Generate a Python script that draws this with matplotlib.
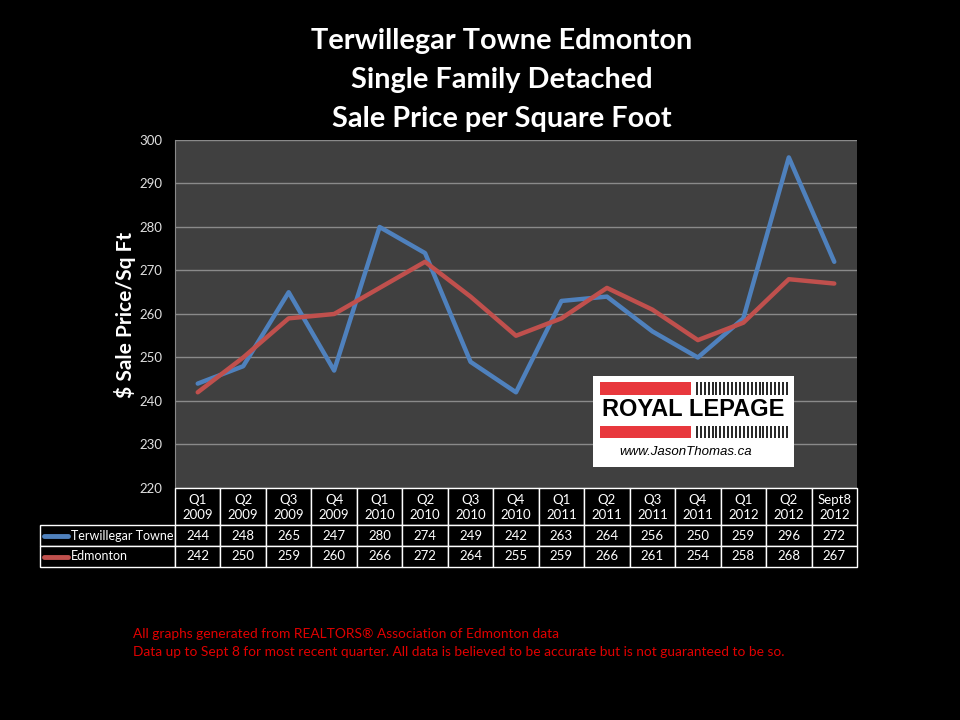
import matplotlib.pyplot as plt
from matplotlib.patches import Rectangle
import numpy as np

plt.rcParams['font.family'] = ['Lato', 'DejaVu Sans']

quarters = ['Q1\n2009', 'Q2\n2009', 'Q3\n2009', 'Q4\n2009',
            'Q1\n2010', 'Q2\n2010', 'Q3\n2010', 'Q4\n2010',
            'Q1\n2011', 'Q2\n2011', 'Q3\n2011', 'Q4\n2011',
            'Q1\n2012', 'Q2\n2012', 'Sept8\n2012']
terwillegar = [244, 248, 265, 247, 280, 274, 249, 242, 263, 264, 256, 250, 259, 296, 272]
edmonton = [242, 250, 259, 260, 266, 272, 264, 255, 259, 266, 261, 254, 258, 268, 267]
series_names = ['Terwillegar Towne', 'Edmonton']
series_colors = ['#4f81bd', '#c0504d']
yticks = [220, 230, 240, 250, 260, 270, 280, 290, 300]

W, H = 960, 720
fig = plt.figure(figsize=(9.6, 7.2), dpi=100, facecolor='black')

# plot area in pixels: x 175-857, y 140-488
L, R, T, B = 175, 857, 140, 488
ax = fig.add_axes([L / W, 1 - B / H, (R - L) / W, (B - T) / H])
ax.set_facecolor('#404040')
x = np.arange(len(quarters)) + 0.5
for vals, c in zip([terwillegar, edmonton], series_colors):
    ax.plot(x, vals, color=c, lw=3.2, solid_capstyle='round', solid_joinstyle='round', zorder=3)
ax.set_xlim(0, len(quarters))
ax.set_ylim(220, 300)
ax.set_yticks(yticks)
ax.set_xticks([])
ax.grid(axis='y', color='#8a8a8a', lw=1)
ax.tick_params(axis='y', length=0, pad=9, labelsize=9.5, labelcolor='#e0e0e0')
for s in ['top', 'right', 'bottom']:
    ax.spines[s].set_visible(False)
ax.spines['left'].set_color('#8a8a8a')

# overlay in pixel coordinates for table, titles and notes
ov = fig.add_axes([0, 0, 1, 1], facecolor='none')
ov.set_xlim(0, W)
ov.set_ylim(H, 0)
ov.axis('off')

# data table under the plot
colw = (R - L) / len(quarters)
hdr_top, hdr_bot = 488, 525
row_h = 21
for j, q in enumerate(quarters):
    x0 = L + j * colw
    ov.add_patch(Rectangle((x0, hdr_top), colw, hdr_bot - hdr_top, fc='black', ec='white', lw=1))
    ov.text(x0 + colw / 2, (hdr_top + hdr_bot) / 2 + 1, q, color='white', fontsize=9.5,
            ha='center', va='center', linespacing=1.35)
for i, (name, vals, c) in enumerate(zip(series_names, [terwillegar, edmonton], series_colors)):
    y0 = hdr_bot + i * row_h
    ov.add_patch(Rectangle((40, y0), L - 40, row_h, fc='black', ec='white', lw=1))
    ov.plot([44, 68], [y0 + row_h / 2, y0 + row_h / 2], color=c, lw=3.5, solid_capstyle='round')
    ov.text(71, y0 + row_h / 2, name, color='white', fontsize=9, ha='left', va='center')
    for j, v in enumerate(vals):
        x0 = L + j * colw
        ov.add_patch(Rectangle((x0, y0), colw, row_h, fc='black', ec='white', lw=1))
        ov.text(x0 + colw / 2, y0 + row_h / 2, str(v), color='white', fontsize=9.5,
                ha='center', va='center')

# title and axis label
for yy, t in [(41, 'Terwillegar Towne Edmonton'), (80, 'Single Family Detached'),
              (119, 'Sale Price per Square Foot')]:
    ov.text(502, yy, t, color='white', fontsize=20.8, fontweight='bold',
            ha='center', va='center')
ov.text(125, 315, '$ Sale Price/Sq Ft', color='white', fontsize=15,
        fontweight='bold', rotation=90, ha='center', va='center')

# footer notes
ov.text(133, 634, 'All graphs generated from REALTORS® Association of Edmonton data',
        color='#e00000', fontsize=9.9, ha='left', va='center')
ov.text(133, 652, 'Data up to Sept 8 for most recent quarter. All data is believed to be accurate but is not guaranteed to be so.',
        color='#e00000', fontsize=9.9, ha='left', va='center')

# logo box
lg = fig.add_axes([593 / W, 1 - 467 / H, 201 / W, 91 / H])
lg.set_xlim(0, 1)
lg.set_ylim(0, 1)
lg.set_facecolor('white')
lg.set_xticks([])
lg.set_yticks([])
for s in lg.spines.values():
    s.set_visible(False)
for y0, y1 in [(0.79, 0.934), (0.319, 0.45)]:
    lg.add_patch(Rectangle((0.035, y0), 0.453, y1 - y0, color='#e8383d', lw=0))
    lg.vlines(np.linspace(0.517, 0.965, 24), y0, y1, color='black', lw=1.2)
lg.text(0.5, 0.63, 'ROYAL LEPAGE', fontsize=17, fontweight='bold', ha='center',
        va='center', color='black', family='Liberation Sans')
lg.text(0.46, 0.165, 'www.JasonThomas.ca', fontsize=9.5, style='italic',
        ha='center', va='center', color='black', family='Liberation Sans')

fig.savefig('out.png', dpi=100, facecolor='black')
